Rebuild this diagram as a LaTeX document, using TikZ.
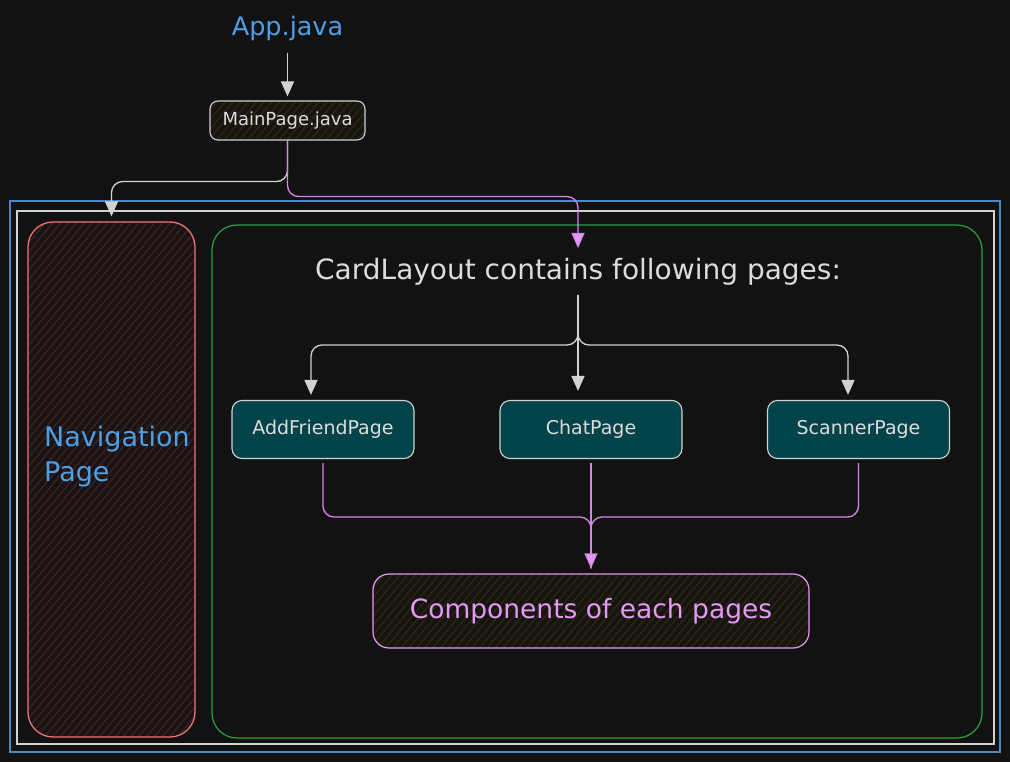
\documentclass[tikz,border=0pt]{standalone}
\usepackage{fontspec}
\setmainfont{DejaVu Sans}
\usetikzlibrary{arrows.meta,patterns.meta,calc}
\definecolor{bg}{HTML}{121212}
\definecolor{linegray}{HTML}{D2D2D2}
\definecolor{textgray}{HTML}{DCDCDC}
\definecolor{bluetext}{HTML}{4D9FE6}
\definecolor{outerblue}{HTML}{4A88C8}
\definecolor{greenline}{HTML}{2F9E44}
\definecolor{redline}{HTML}{EE7474}
\definecolor{navbase}{HTML}{1C1414}
\definecolor{navhatch}{HTML}{3A2424}
\definecolor{brownbase}{HTML}{17150F}
\definecolor{brownhatch}{HTML}{2C2716}
\definecolor{tealfill}{HTML}{03444A}
\definecolor{magline}{HTML}{D884E8}
\definecolor{magtext}{HTML}{E599F7}
\begin{document}
\begin{tikzpicture}[x=1pt,y=-1pt,
  grayarrow/.style={draw=linegray, line width=1.3pt, rounded corners=11pt, -{Triangle[width=13pt,length=15pt]}},
  magarrow/.style={draw=magline, line width=1.3pt, rounded corners=11pt, -{Triangle[width=13pt,length=15pt,fill=magtext]}},
  magline/.style={draw=magline, line width=1.3pt, rounded corners=11pt},
  hatchbrown/.style={preaction={fill=brownbase}, preaction={pattern={Lines[angle=50,distance=6pt,line width=1.2pt]}, pattern color=brownhatch}},
  hatchred/.style={preaction={fill=navbase}, preaction={pattern={Lines[angle=50,distance=6pt,line width=1.2pt]}, pattern color=navhatch}},
  pagebox/.style={draw=linegray, line width=1.1pt, rounded corners=10pt, fill=tealfill, inner sep=0pt,
    minimum width=182pt, minimum height=58pt, text=textgray, font=\fontsize{19}{23}\selectfont},
  plain/.style={inner sep=0pt}
]
\useasboundingbox (0,0) rectangle (1010,762);
\fill[bg] (0,0) rectangle (1010,762);

% frames
\draw[outerblue, line width=1.6pt] (10,201) rectangle (1000,752);
\draw[linegray, line width=1.3pt] (17,211) rectangle (994,744);

\node[draw=redline, line width=1.3pt, rounded corners=25pt, minimum width=167pt, minimum height=515pt, hatchred]
  (nav) at (111.5,479.5) {};
\node[draw=greenline, line width=1.2pt, rounded corners=25pt, minimum width=770pt, minimum height=513pt]
  (card) at (597,481.5) {};

% texts and boxes
\node[plain, text=bluetext, font=\fontsize{25.5}{30}\selectfont] (app) at (287.5,28) {App.java};
\node[draw=linegray, line width=1.1pt, rounded corners=8pt, hatchbrown, inner sep=0pt,
  minimum width=155pt, minimum height=39pt, text=textgray, font=\fontsize{18}{22}\selectfont]
  (main) at (287.5,120.5) {MainPage.java};
\node[plain, anchor=north west, align=left, text=bluetext, font=\fontsize{27}{35}\selectfont]
  (navtext) at (44,426) {Navigation\\Page};
\node[plain, text=textgray, font=\fontsize{28}{34}\selectfont] (cardtext) at (578,272) {CardLayout contains following pages:};

\node[pagebox] (add) at (323,429.5) {AddFriendPage};
\node[pagebox] (chat) at (591,429.5) {ChatPage};
\node[pagebox] (scan) at (858.5,429.5) {ScannerPage};

\node[draw=magtext, line width=1.2pt, rounded corners=16pt, hatchbrown, inner sep=0pt,
  minimum width=436pt, minimum height=74pt, text=magtext, font=\fontsize{26.5}{31}\selectfont]
  (comp) at (591,611) {Components of each pages};

% coordinates for connector ends
\coordinate (navin) at ([yshift=5pt]nav.north);
\coordinate (cardin) at (578,248);
\coordinate (cardout) at (578,295);
\coordinate (compin) at ([yshift=5pt]comp.north);

% connectors
\draw[grayarrow, rounded corners=0pt] ([yshift=-12pt]app.south) -- ([yshift=4pt]main.north);
\draw[grayarrow] (main.south) -- ++(0,41) -| (navin);
\draw[magarrow] (main.south) -- ++(0,56) -| (cardin);

\draw[grayarrow] (cardout) -- ($(cardout |- chat.north)+(0,-9)$);
\draw[grayarrow] (cardout) -- ++(0,50) -| ($(add.north)+(-12,-5)$);
\draw[grayarrow] (cardout) -- ++(0,50) -| ($(scan.north)+(-10.5,-5)$);

\draw[magline] ($(add.south)+(0,4)$) -- ++(0,54) -| (compin);
\draw[magline] ($(scan.south)+(0,4)$) -- ++(0,54) -| (compin);
\draw[magarrow, rounded corners=0pt] ($(chat.south)+(0,4)$) -- (compin);
\end{tikzpicture}
\end{document}
